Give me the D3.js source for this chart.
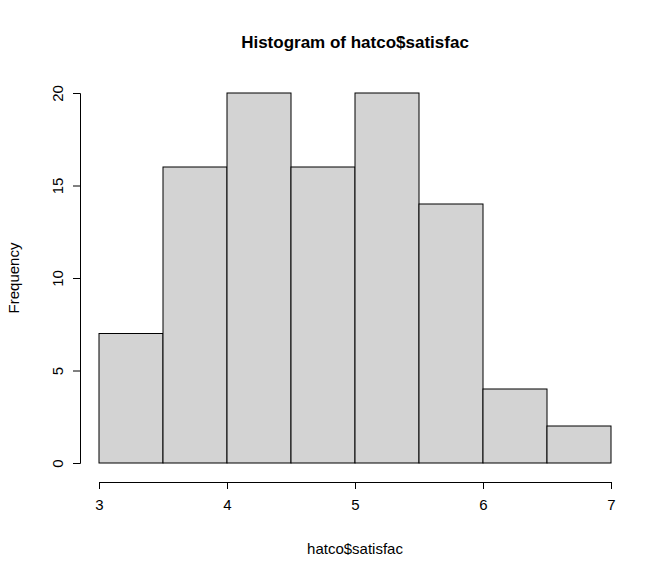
<!DOCTYPE html>
<html><head><meta charset="utf-8">
<script src="https://cdn.jsdelivr.net/npm/d3@7"></script>
<style>body{margin:0;background:#fff;} text{font-family:"Liberation Sans",Arial,sans-serif;}</style>
</head><body>
<script>
var binStarts = [3, 3.5, 4, 4.5, 5, 5.5, 6, 6.5];
var binWidth = 0.5;
var counts = [7, 16, 20, 16, 20, 14, 4, 2];
var xTicks = [3, 4, 5, 6, 7];
var yTicks = [0, 5, 10, 15, 20];

var svg = d3.select("body").append("svg").attr("width", 672).attr("height", 576);
var x = d3.scaleLinear().domain([3, 7]).range([99, 611]);
var y = d3.scaleLinear().domain([0, 20]).range([463, 93]);

svg.selectAll(".bar").data(binStarts).enter().append("rect")
  .attr("x", function(d) { return x(d); })
  .attr("width", function(d) { return x(d + binWidth) - x(d); })
  .attr("y", function(d, i) { return y(counts[i]); })
  .attr("height", function(d, i) { return y(0) - y(counts[i]); })
  .attr("fill", "#d3d3d3").attr("stroke", "#000").attr("stroke-width", 1);

var xa = svg.append("g").attr("transform", "translate(0,482)")
  .call(d3.axisBottom(x).tickValues(xTicks).tickSize(7).tickPadding(10).tickFormat(d3.format("d")));
var ya = svg.append("g").attr("transform", "translate(80,0)")
  .call(d3.axisLeft(y).tickValues(yTicks).tickSize(7).tickPadding(10).tickFormat(d3.format("d")));
[xa, ya].forEach(function(g) {
  g.select(".domain").attr("stroke", "#000");
  g.selectAll("text").attr("font-size", 15).attr("fill", "#000")
    .attr("font-family", "Liberation Sans, Arial, sans-serif");
});
ya.selectAll(".tick text").attr("text-anchor", "middle").attr("dy", 0)
  .attr("transform", function() { return "translate(-17,0) rotate(-90)"; }).attr("x", 0);

svg.append("text").attr("x", 355).attr("y", 48).attr("text-anchor", "middle")
  .attr("font-size", 17).attr("font-weight", "bold").text("Histogram of hatco$satisfac");
svg.append("text").attr("x", 355).attr("y", 554).attr("text-anchor", "middle")
  .attr("font-size", 15).text("hatco$satisfac");
svg.append("text").attr("transform", "translate(19,278) rotate(-90)").attr("text-anchor", "middle")
  .attr("font-size", 15).text("Frequency");
</script>
</body></html>
